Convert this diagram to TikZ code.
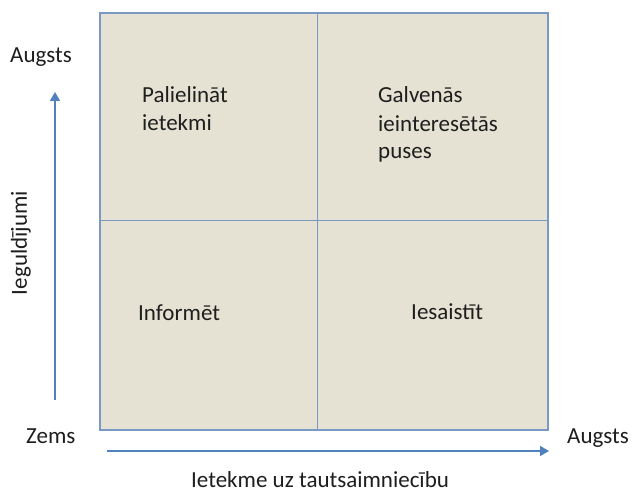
\documentclass[tikz,border=0pt]{standalone}
\usepackage{fontspec}
\setmainfont{Carlito}
\usetikzlibrary{arrows.meta}
\definecolor{cellfill}{RGB}{229,226,211}
\definecolor{gridline}{RGB}{122,152,196}
\definecolor{axisblue}{RGB}{79,129,189}
\definecolor{txt}{RGB}{30,30,30}
\begin{document}
\begin{tikzpicture}[x=1pt,y=-1pt,
  lbl/.style={anchor=base west,inner sep=0pt,text=txt,font=\fontsize{23}{28}\selectfont,align=left},
  axis/.style={draw=axisblue,line width=1.6pt,-{Triangle[length=9pt,width=10pt]}}]
\useasboundingbox (0,0) rectangle (632,492);
\fill[white] (0,0) rectangle (632,492);
% quadrant grid
\draw[gridline,line width=1.2pt,fill=cellfill] (100,13) rectangle (548,430);
\draw[gridline,line width=1pt] (317,13) -- (317,430);
\draw[gridline,line width=1pt] (100,220) -- (548,220);
% axes
\coordinate (ybot) at (55,400);
\coordinate (ytop) at (55,92);
\coordinate (xl) at (107,451);
\coordinate (xr) at (549,451);
\draw[axis] (ybot) -- (ytop);
\draw[axis] (xl) -- (xr);
% texts
\node[lbl] (ytoplbl) at (10,63) {Augsts};
\node[lbl] (zems) at (26,443) {Zems};
\node[lbl] (xrlbl) at (567,443) {Augsts};
\node[lbl] (xlbl) at (191,487) {Ietekme uz tautsaimniecību};
\node[inner sep=0pt,text=txt,font=\fontsize{23}{28}\selectfont,rotate=90,anchor=base] (ylbl) at (27,243) {Ieguldījumi};
\node[lbl] (q1) at (142,131) {Palielināt\\ietekmi};
\node[lbl] (q2) at (378,159) {Galvenās\\ieinteresētās\\puses};
\node[lbl] (q3) at (138,320) {Informēt};
\node[lbl] (q4) at (411,319) {Iesaistīt};
\end{tikzpicture}
\end{document}
